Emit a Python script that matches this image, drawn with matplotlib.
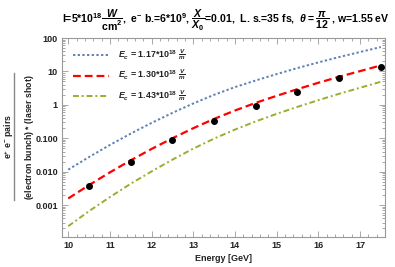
import matplotlib
matplotlib.use("Agg")
import matplotlib.pyplot as plt
from matplotlib.lines import Line2D
from matplotlib.ticker import FixedLocator, LogLocator, NullFormatter, MultipleLocator

plt.rcParams['font.family'] = ['Liberation Sans', 'DejaVu Sans']
plt.rcParams['font.weight'] = 'bold'
plt.rcParams['mathtext.fontset'] = 'custom'
plt.rcParams['mathtext.rm'] = 'Liberation Sans:bold'
plt.rcParams['mathtext.it'] = 'Liberation Sans:bold:italic'
plt.rcParams['mathtext.bf'] = 'Liberation Sans:bold'

# ---- data ----
energy = [10, 10.5, 11, 11.5, 12, 12.5, 13, 13.5, 14, 14.5, 15, 15.5, 16, 16.5, 17, 17.5]
blue_vals = [0.0115, 0.0275, 0.0631, 0.138, 0.288, 0.575, 1.10, 2.00, 3.39, 5.37,
             8.32, 12.6, 18.6, 26.9, 38.0, 53.7]
red_vals = [0.00158, 0.00398, 0.00955, 0.0219, 0.0479, 0.100, 0.200, 0.380, 0.676, 1.15,
            1.86, 2.95, 4.57, 6.92, 10.2, 15.1]
green_vals = [0.000234, 0.000661, 0.00174, 0.00437, 0.0102, 0.0229, 0.0490, 0.0977, 0.182,
              0.320, 0.537, 0.871, 1.38, 2.14, 3.24, 4.90]
point_e = [10.5, 11.5, 12.5, 13.5, 14.5, 15.5, 16.5, 17.5]
point_vals = [0.0037, 0.019, 0.089, 0.32, 0.95, 2.5, 6.3, 13.3]

labels = [r"$E_c$ = 1.17$*$10$^{18}$ $\frac{V}{m}$",
          r"$E_c$ = 1.30$*$10$^{18}$ $\frac{V}{m}$",
          r"$E_c$ = 1.43$*$10$^{18}$ $\frac{V}{m}$"]
xticks = [10, 11, 12, 13, 14, 15, 16, 17]
yticks = [0.001, 0.01, 0.1, 1, 10, 100]
yticklabels = ["0.001", "0.010", "0.100", "1", "10", "100"]
title = (r"I=5$*$10$^{18}$$\dfrac{W}{\mathrm{cm}^2}$,  e$^{-}$ b.=6$*$10$^{9}$, "
         r"$\dfrac{X}{X_0}$=0.01,  L. s.=35 fs,  $\theta=\dfrac{\pi}{12}$ , w=1.55 eV")

fig = plt.figure(figsize=(3.95, 2.67), dpi=100)
ax = fig.add_axes([62/395, 30/267, (385-62)/395, (237-38)/267])

blue = '#5e81b5'
red = '#ff0000'
green = '#9aad2e'

ax.plot(energy, blue_vals, color=blue, lw=1.4, ls=(0, (1.2, 1.2)), label=labels[0])
ax.plot(energy, red_vals, color=red, lw=1.6, ls=(0, (3.5, 1.8)), label=labels[1])
ax.plot(energy, green_vals, color=green, lw=1.4, ls=(0, (3, 1.5, 1, 1.5)), label=labels[2])
ax.plot(point_e, point_vals, 'o', color='black', ms=4, zorder=5)

ax.set_yscale('log')
ax.set_xlim(9.85, 17.60)
ax.set_ylim(1.11e-4, 100)

ax.xaxis.set_major_locator(FixedLocator(xticks))
ax.xaxis.set_minor_locator(MultipleLocator(0.2))
ax.set_yticks(yticks)
ax.set_yticklabels(yticklabels)
ax.yaxis.set_minor_locator(LogLocator(base=10, subs=range(2, 10), numticks=20))
ax.yaxis.set_minor_formatter(NullFormatter())

for s in ax.spines.values():
    s.set_color('#999999')
    s.set_linewidth(0.8)
ax.tick_params(which='both', direction='in', top=True, right=True, color='#999999',
               labelsize=6.5, labelcolor='#222222', width=0.6, pad=3)
ax.tick_params(which='major', length=4)
ax.tick_params(which='minor', length=2)
for t in ax.get_xticklabels() + ax.get_yticklabels():
    t.set_fontweight('bold')

ax.set_xlabel("Energy [GeV]", fontsize=6.5, fontweight='bold', color='#222222', labelpad=3)

leg = ax.legend(loc='upper left', bbox_to_anchor=(0.015, 0.985), frameon=False,
                fontsize=6.4, handlelength=4.0, handletextpad=1.0, labelspacing=0.7,
                borderaxespad=0.3)
for t in leg.get_texts():
    t.set_color('#222222')

fig.text(0.572, 0.925, title, ha='center', va='center', fontsize=7.6, fontweight='bold')

# y label as fraction
fig.text(9/395, 0.487, r"e$^{+}$ e$^{-}$ pairs", rotation=90, ha='center', va='center',
         fontsize=6.3, fontweight='bold', color='#222222')
fig.text(29/395, 0.487, "(electron bunch) $*$ (laser shot)", rotation=90, ha='center',
         va='center', fontsize=6.3, fontweight='bold', color='#222222')
fig.add_artist(Line2D([14/395, 14/395], [1-73/267, 1-200/267], color='#888888', lw=1.0,
                      transform=fig.transFigure))

fig.savefig("out.png", dpi=100)
